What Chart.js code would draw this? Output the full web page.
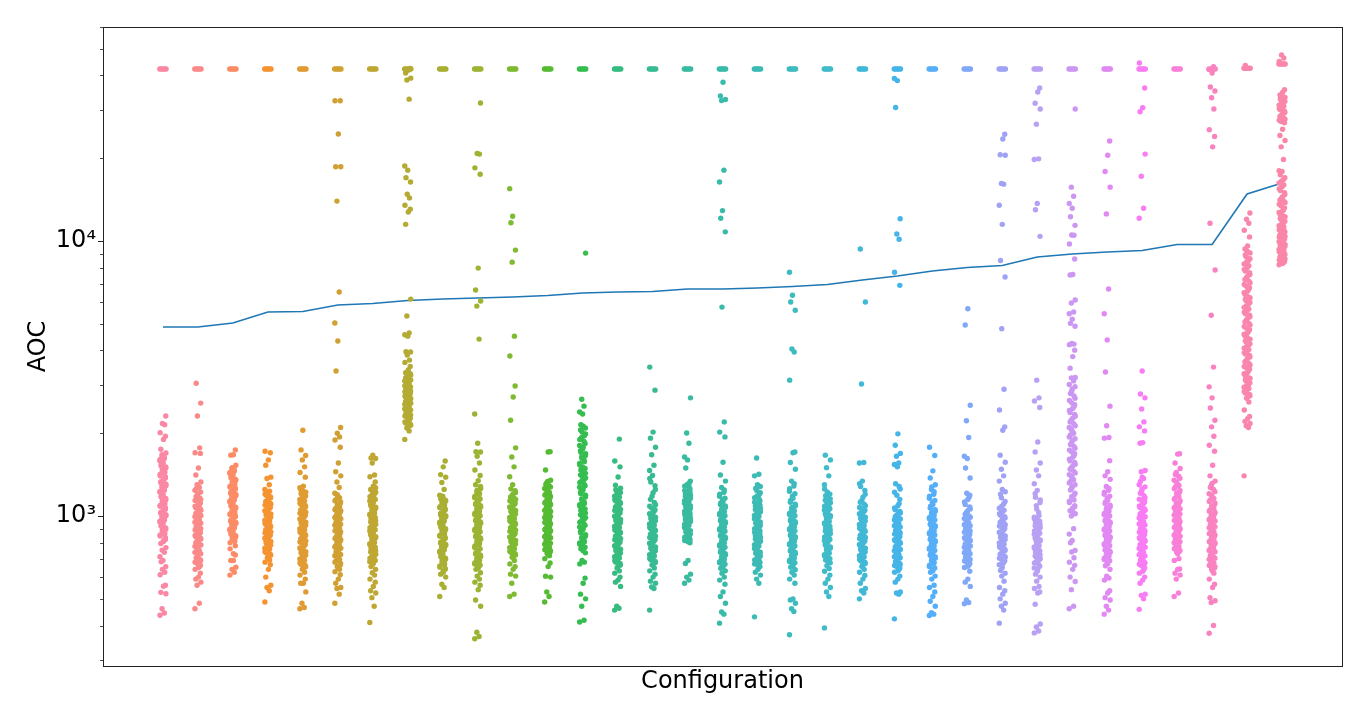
<!DOCTYPE html>
<html><head><meta charset="utf-8">
<style>html,body{margin:0;padding:0;background:#fff}canvas{display:block}</style>
<script src="https://cdn.jsdelivr.net/npm/chart.js@4"></script></head>
<body><div style="width:1368px;height:720px"><canvas id="c" width="1368" height="720"></canvas></div>
<script>
const medianAOC=[4868,4868,5032,5518,5541,5851,5925,6075,6153,6205,6258,6337,6470,6525,6552,6690,6690,6747,6832,6947,7214,7459,7778,8009,8145,8747,8968,9120,9236,9712,9712,14825,16255];
const capValues=[42200,42200,42200,42200,42200,42200,42200,42200,42200,42200,42200,42200,42200,42200,42200,42200,42200,42200,42200,42200,42200,42200,42200,42200,42200,42200,42200,42200,42200,42200,42200,42500,44000];
const palette=["#fa88a4","#fa8a8a","#fb8c66","#f59331","#e09b33","#d0a033","#bfa733","#b4ab33","#a9af33","#9cb433","#7fba33","#55bb33","#35bd50","#37bc80","#38bb92","#39bb9f","#3abbaa","#3cbbb5","#3dbbbf","#3fbbc9","#41b8d6","#45b5e8","#55aef8","#80a8f8","#a0a2f5","#b8a0f3","#cc96f3","#e188f3","#f87cf3","#f97fd8","#f983c0","#fa86b0","#fa87a8"];
const jitter=[-0.085,0.04,-0.025,0.085,-0.06,0.015,0.07,-0.08,0.05,-0.015,0.08,-0.05,0.0];
const capJitter=[-0.09,-0.045,0,0.045,0.09];
const yMajorTicks=[1000,10000];
const yMinorTicks=[300,400,500,600,700,800,900,2000,3000,4000,5000,6000,7000,8000,9000,20000,30000,40000,50000,60000];

const c00=[436,444,460,522,528,556,560,612,625,640,655,682,690,712,738,752,768,795,808,822,846,860,883,895,918,930,952,965,985,1003,1022,1045,1058,1085,1100,1126,1145,1172,1190,1220,1240,1270,1290,1322,1345,1376,1400,1438,1460,1495,1520,1556,1585,1620,1650,1695,1750,1900,1950,2010,2150,2170,2310];
const c01=[460,482,560,575,590,600,620,640,655,672,690,705,722,738,750,768,785,800,818,832,850,865,880,900,915,932,950,968,985,1005,1022,1040,1062,1085,1105,1130,1150,1178,1205,1240,1270,1300,1330,1410,1495,1690,1700,1770,2310,2575,3040];
const c02=[610,625,640,652,690,730,780,800,815,832,848,866,880,896,915,930,948,965,985,1003,1020,1040,1058,1078,1095,1116,1135,1155,1175,1198,1218,1240,1262,1285,1310,1335,1360,1388,1415,1440,1470,1500,1530,1665,1670,1740];
const c03=[487,535,550,560,600,640,665,680,692,706,720,735,750,764,778,792,808,822,838,852,868,884,900,915,932,948,965,982,1000,1018,1036,1055,1075,1096,1118,1140,1165,1190,1215,1250,1300,1370,1385,1530,1600,1700,1720];
const c04=[460,465,482,530,570,570,590,610,625,640,654,668,682,698,712,728,742,758,772,788,805,820,836,850,866,884,900,916,934,950,968,986,1005,1024,1042,1062,1082,1102,1125,1148,1172,1196,1222,1250,1285,1385,1440,1510,1600,1660,1740,2050];
const c05=[482,520,545,550,570,590,612,628,640,656,672,688,702,718,732,748,764,780,796,812,828,844,860,876,892,908,926,942,960,978,996,1015,1035,1055,1078,1100,1125,1150,1180,1210,1270,1330,1400,1450,1560,1780,1890,1940,2000,2100,3370,4330,5032,6525,13970,18620,18620,24490,32360,32360];
const c06=[410,470,505,525,535,555,575,590,610,622,640,655,668,682,695,710,726,740,756,770,786,802,818,834,850,866,882,900,916,934,952,970,988,1006,1025,1045,1065,1088,1110,1135,1162,1190,1220,1250,1285,1330,1390,1410,1560,1620,1625,1665];
const c07=[1900,2040,2090,2140,2180,2220,2270,2310,2350,2390,2430,2470,2510,2550,2590,2630,2670,2710,2750,2790,2830,2870,2910,2950,3000,3050,3100,3150,3200,3260,3320,3400,3500,3620,3690,3850,3950,3960,4510,4560,4630,5340,6150,11500,12750,13050,13500,14350,14800,16400,17000,18100,18740,32800,38500,39100,40800,41800,42400];
const c08=[510,550,565,600,615,625,640,652,666,680,696,710,724,738,752,766,782,796,812,828,844,860,876,892,908,924,940,958,976,994,1012,1032,1052,1072,1092,1112,1132,1152,1172,1190,1250,1325,1385,1415,1510,1585];
const c09=[358,365,378,470,495,540,560,575,590,605,622,640,655,670,684,698,712,728,744,760,778,796,814,832,850,868,886,905,924,942,962,982,1002,1024,1046,1068,1090,1114,1140,1166,1195,1225,1260,1300,1345,1405,1470,1560,1650,1710,1715,1840,2350,4400,5800,6050,6640,7970,17500,18450,20700,20800,31750];
const c10=[510,520,570,605,615,640,655,670,690,708,722,738,752,768,784,800,816,832,848,864,880,898,916,934,952,970,988,1008,1028,1048,1068,1090,1112,1136,1160,1188,1218,1256,1300,1390,1510,1640,1770,2230,2710,2970,3820,4510,8380,9270,11650,12300,15500];
const c11=[487,510,530,600,604,655,675,700,718,732,748,762,776,790,804,818,834,848,862,878,892,908,924,940,955,972,988,1005,1022,1040,1058,1076,1095,1115,1135,1155,1180,1205,1232,1260,1290,1320,1350,1470,1710,1715];
const c12=[412,418,470,500,520,570,595,670,680,690,735,760,780,798,815,835,855,880,900,925,950,975,1000,1025,1050,1075,1100,1125,1155,1190,1220,1255,1290,1325,1360,1395,1430,1470,1510,1555,1600,1640,1685,1730,1780,1835,1900,1960,2020,2090,2150,2350,2390,2510,2660,9040];
const c13=[455,462,470,555,575,585,600,620,632,648,664,680,696,712,726,742,758,772,788,804,820,836,852,868,884,900,918,936,954,972,990,1008,1028,1048,1068,1090,1112,1134,1158,1182,1206,1232,1262,1295,1386,1510,1585,1905];
const c14=[455,545,552,570,580,600,615,632,648,664,678,694,708,724,740,756,772,788,804,820,836,852,868,884,900,918,936,952,970,990,1010,1030,1055,1085,1120,1180,1250,1330,1405,1465,1530,1670,1780,1920,2020,2870,3480];
const c15=[570,585,600,615,672,690,800,815,830,845,860,876,892,908,924,940,955,970,986,1002,1018,1034,1050,1066,1082,1098,1114,1130,1146,1162,1180,1198,1218,1240,1270,1300,1340,1495,1600,1640,1840,2005,2690];
const c16=[408,440,448,482,510,530,565,585,600,620,632,646,660,676,690,706,722,738,754,770,786,802,820,838,854,872,890,908,926,944,962,982,1002,1022,1042,1064,1088,1115,1145,1180,1220,1270,1340,1410,1570,1940,2020,2200,5750,10800,12100,12900,16400,18100,32400,32700,33700,37800];
const c17=[430,570,590,610,625,640,655,670,686,700,716,732,746,762,778,794,810,826,842,858,874,890,908,924,942,960,978,996,1016,1036,1056,1076,1098,1122,1150,1180,1215,1260,1300,1400,1420,1626];
const c18=[370,450,460,482,495,500,570,590,610,625,638,652,668,684,698,714,730,746,762,778,794,810,826,842,858,874,892,908,926,944,962,982,1002,1024,1048,1075,1105,1140,1180,1230,1285,1340,1480,1565,1700,1710,3120,3950,4050,5600,6000,6350,7700];
const c19=[392,510,530,550,570,590,610,630,645,660,676,692,708,724,740,756,772,790,806,822,840,856,874,890,908,926,944,962,982,1002,1022,1042,1064,1085,1108,1130,1155,1185,1220,1300,1400,1500,1600,1665];
const c20=[500,525,535,545,570,590,608,625,640,656,672,688,702,718,734,748,764,780,796,812,828,844,860,878,896,914,932,950,970,990,1010,1030,1050,1075,1105,1140,1200,1280,1340,1560,1565,3020,6000,9350];
const c21=[423,520,525,530,575,590,605,625,640,655,668,684,698,712,726,740,756,772,788,804,820,836,852,868,886,904,922,940,958,976,995,1015,1040,1070,1110,1190,1255,1310,1510,1540,1560,1650,1690,1810,1990,6900,7700,10150,10600,12050,30600,38300,39000];
const c22=[435,440,445,470,490,510,530,550,560,590,605,625,640,655,672,688,704,720,736,750,766,782,798,814,830,846,862,878,896,914,932,950,968,988,1008,1030,1055,1085,1120,1160,1200,1250,1300,1375,1460,1660,1780];
const c23=[480,485,495,555,575,590,630,650,665,680,695,708,722,736,750,764,778,792,806,820,834,850,866,882,898,914,930,948,968,990,1015,1045,1080,1125,1170,1210,1375,1495,1620,1650,1930,2220,2530,4950,5670];
const c24=[408,455,470,482,500,520,535,550,580,605,620,634,650,665,680,696,710,726,742,758,774,790,806,822,838,856,874,892,910,930,950,972,995,1020,1050,1085,1130,1200,1250,1340,1400,1480,1570,1665,2050,2110,2430,2890,4800,7400,8500,11500,13500,16100,16200,20500,20600,23500,24450];
const c25=[376,382,395,405,478,525,530,545,555,580,600,615,630,648,666,684,700,716,732,748,764,780,796,812,826,842,858,874,890,906,922,940,958,978,1005,1060,1120,1170,1240,1310,1400,1470,1560,1710,1860,2480,2620,2690,3120,10400,13000,13700,19800,19900,26600,30200,31700,34800,36000];
const c26=[460,470,540,578,600,640,662,680,705,740,750,800,815,860,900,1000,1020,1045,1070,1090,1120,1145,1175,1210,1245,1280,1320,1355,1395,1435,1480,1520,1565,1610,1660,1710,1765,1820,1880,1940,2000,2070,2130,2200,2270,2340,2420,2500,2580,2680,2790,2900,3010,3100,3180,3190,3450,3800,4010,4200,4220,4240,4900,5020,5200,5440,5520,5950,6100,7520,7560,8600,9750,10500,10520,11400,12250,13150,13700,14550,15700,30200];
const c27=[440,455,470,495,505,525,535,585,595,605,640,660,680,695,710,725,738,752,766,780,794,810,826,842,858,874,890,906,924,942,960,980,1000,1022,1045,1068,1095,1125,1160,1200,1240,1280,1360,1400,1450,1590,1920,1930,2130,2510,3340,4370,5440,6690,12550,15700,17900,20500,23100];
const c28=[458,500,515,520,570,585,600,620,640,660,676,692,708,724,738,754,770,786,802,818,834,850,866,882,900,918,936,954,974,994,1015,1038,1062,1088,1115,1140,1165,1210,1255,1300,1370,1450,1465,1840,1850,2040,2110,2200,2450,2690,2780,3370,12100,13150,17200,20700,29500,30500,36000,44400];
const c29=[510,525,590,610,620,640,642,690,700,740,750,770,785,800,815,830,845,860,876,892,908,924,940,956,972,990,1008,1026,1044,1062,1080,1100,1125,1150,1178,1208,1240,1275,1310,1350,1395,1440,1490,1560,1680,1685];
const c30=[375,400,485,492,505,550,565,590,620,640,655,668,682,696,710,726,742,758,774,790,806,822,838,854,870,888,906,924,942,960,980,1000,1020,1042,1064,1088,1115,1145,1175,1205,1250,1290,1340,1400,1530,1720,1810,1950,2110,2230,2470,2690,2950,3480,5370,7850,11600,22000,24000,25400,30200,33200,35100,36300,40800,42000,43000];
const c31=[1400,2100,2130,2170,2210,2260,2300,2430,2600,2680,2740,2800,2880,2940,3010,3090,3170,3250,3330,3420,3500,3590,3690,3790,3880,3980,4080,4180,4290,4400,4520,4640,4760,4890,5020,5160,5300,5440,5590,5740,5900,6060,6220,6400,6580,6760,6950,7150,7350,7560,7780,8000,8250,8500,8750,9050,9350,9600,10350,10950,11600,12000,12650,43500];
const c32=[8200,8350,8450,8600,8750,8850,9000,9150,9250,9400,9550,9650,9800,9950,10100,10250,10400,10550,10700,10850,11000,11250,11500,11800,12100,12400,12700,13000,13400,13800,14100,14500,15000,15500,16000,16500,17000,17400,17900,18000,19800,22000,23200,24200,25500,26900,27500,28000,28700,29300,30000,30600,31200,31900,32500,33300,34000,34700,35500,45000,46300,47500];
const aocByConfig=[c00,c01,c02,c03,c04,c05,c06,c07,c08,c09,c10,c11,c12,c13,c14,c15,c16,c17,c18,c19,c20,c21,c22,c23,c24,c25,c26,c27,c28,c29,c30,c31,c32];

const core00=[814,834,853,872,890,906,924,941,958,975,993,1012,1033,1052,1071,1092,1113,1135,1158,1181,1205,1230,1255,1280,1306,1333,1360,1388,1419,1449,1478,1508,1538,1570,1602,1635,1672];
const core01=[650,663,680,697,713,730,744,759,776,792,809,825,841,857,872,890,907,923,941,959,976,995,1013,1031,1050,1073,1095,1117,1140,1164,1191,1222,1255,1285];
const core02=[690,722,760,808,824,840,857,873,888,905,922,939,956,975,994,1011,1030,1049,1068,1086,1105,1125,1145,1165,1186,1208,1229,1251,1273,1297,1322,1347,1374,1401,1428,1455,1485];
const core03=[712,727,742,757,771,785,800,815,830,845,860,876,892,907,923,940,956,973,991,1009,1027,1045,1065,1085,1107,1129,1152,1177,1202,1232];
const core04=[647,661,675,690,705,720,735,750,765,780,796,812,828,843,858,875,892,908,925,942,959,977,995,1014,1033,1052,1072,1092,1113,1136,1160,1184,1209,1236,1267];
const core05=[648,664,680,695,710,725,740,756,772,788,804,820,836,852,868,884,900,917,934,951,969,987,1005,1025,1045,1066,1089,1112,1137,1165,1195];
const core06=[675,689,702,718,733,748,763,778,794,810,826,842,858,874,891,908,925,943,961,979,997,1015,1035,1055,1076,1099,1122,1148,1176,1205,1235,1268];
const core07=[2110,2160,2200,2245,2290,2330,2370,2410,2450,2490,2530,2570,2610,2650,2690,2730,2770,2810,2850,2890,2930,2975,3025,3075,3125,3175,3230,3290];
const core08=[632,645,659,673,688,703,717,731,745,759,774,789,804,820,836,852,868,884,900,916,932,949,967,985,1003,1022,1042,1062,1082,1102,1122,1142,1162,1180];
const core09=[648,663,677,691,705,720,736,752,769,787,805,823,841,859,877,895,914,933,952,972,992,1013,1035,1057,1079,1102,1127,1153,1180,1210,1242,1280];
const core10=[715,730,745,760,776,792,808,824,840,856,872,889,907,925,943,961,979,998,1018,1038,1058,1079,1101,1124,1148,1174,1203,1237];
const core11=[725,740,755,769,783,797,811,826,841,855,870,885,900,916,932,948,963,980,996,1013,1031,1049,1067,1085,1105,1125,1145,1167,1192,1218,1246,1275,1305,1335];
const core12=[748,770,789,806,825,845,867,890,912,937,962,987,1012,1037,1062,1087,1112,1140,1172,1205,1237,1272,1307,1342,1377,1412,1450,1490,1532,1577,1620,1662,1707,1755,1807,1867,1930,1990,2055,2120];
const core13=[656,672,688,704,719,734,750,765,780,796,812,828,844,860,876,892,909,927,945,963,981,999,1018,1038,1058,1079,1101,1123,1146,1170,1194,1219,1247];
const core14=[670,686,701,716,732,748,764,780,796,812,828,844,860,876,892,909,927,944,961,980,1000,1020,1042,1070,1100,1150,1215,1290,1370];
const core15=[807,822,837,852,868,884,900,916,932,947,962,978,994,1010,1026,1042,1058,1074,1090,1106,1122,1138,1154,1171,1189,1208,1229,1255,1285,1320];
const core16=[653,668,683,698,714,730,746,762,778,794,811,829,846,863,881,899,917,935,953,972,992,1012,1032,1053,1076,1101,1130,1162,1200,1245];
const core17=[662,678,693,708,724,739,754,770,786,802,818,834,850,866,882,899,916,933,951,969,987,1006,1026,1046,1066,1087,1110,1136,1165,1197,1237,1280];
const core18=[660,676,691,706,722,738,754,770,786,802,818,834,850,866,883,900,917,935,953,972,992,1013,1036,1061,1090,1122,1160,1205,1257,1312];
const core19=[684,700,716,732,748,764,781,798,814,831,848,865,882,899,917,935,953,972,992,1012,1032,1053,1074,1096,1119,1142,1170,1202,1255];
const core20=[664,680,695,710,726,741,756,772,788,804,820,836,852,869,887,905,923,941,960,980,1000,1020,1040,1062,1090,1122,1170,1240,1310];
const core21=[632,647,661,676,691,705,719,733,748,764,780,796,812,828,844,860,877,895,913,931,949,967,985,1005,1027,1055,1090,1150,1220,1280];
const core22=[632,647,663,680,696,712,728,743,758,774,790,806,822,838,854,870,887,905,923,941,959,978,998,1019,1042,1070,1102,1140,1180,1225,1275];
const core23=[657,672,687,701,715,729,743,757,771,785,799,813,827,842,858,874,890,906,922,939,958,979,1002,1030,1062,1102,1148,1190];
const core24=[672,688,703,718,734,750,766,782,798,814,830,847,865,883,901,920,940,961,983,1007,1035,1067,1107,1165,1225];
const core25=[639,657,675,692,708,724,740,756,772,788,804,819,834,850,866,882,898,914,931,949,968,991,1030,1090,1145,1205];
const core26=[1035,1080,1132,1192,1262,1300,1337,1375,1415,1457,1500,1542,1587,1635,1685,1737,1792,1850,1910,1970,2035,2100,2165,2235,2305,2380,2460,2540,2630,2735,2845,2955];
const core27=[670,688,703,718,731,745,759,773,787,802,818,834,850,866,882,898,915,933,951,970,990,1011,1033,1056,1081,1110,1142,1180,1220,1260];
const core28=[630,650,668,684,700,716,731,746,762,778,794,810,826,842,858,874,891,909,927,945,964,984,1005,1026,1050,1075,1101,1127,1152,1187,1232,1277,1335,1385];
const core29=[730,745,760,777,792,807,822,837,852,868,884,900,916,932,948,964,981,999,1017,1035,1053,1071,1090,1112,1137,1164,1193,1224,1257,1292,1330,1372,1417];
const core30=[630,647,661,675,689,703,718,734,750,766,782,798,814,830,846,862,879,897,915,933,951,970,990,1010,1031,1053,1076,1101,1130,1160,1190,1227,1270,1315];
const core31=[2710,2770,2840,2910,2975,3050,3130,3210,3290,3375,3460,3545,3640,3740,3835,3930,4030,4130,4235,4345,4460,4580,4700,4825,4955,5090,5230,5370,5515,5665,5820,5980,6140,6310,6490,6670,6855,7050,7250,7455,7670,7890,8125,8375,8625,8900,9200];
const core32=[8280,8400,8525,8675,8800,8925,9075,9200,9325,9475,9600,9725,9875,10025,10175,10325,10475,10625,10775,10925,11125,11375,11650,11950,12250,12550,12850,13200,13600,13950,14300,14750,15250,15750,16250,16750,27200,27750,28350,29000,29650,30300,30900,31550,32200,32900,33650];
const coreByConfig=[core00,core01,core02,core03,core04,core05,core06,core07,core08,core09,core10,core11,core12,core13,core14,core15,core16,core17,core18,core19,core20,core21,core22,core23,core24,core25,core26,core27,core28,core29,core30,core31,core32];

const strips=aocByConfig.map((vals,i)=>({
  type:'scatter',order:0,label:'Config '+(i+1),
  data:vals.map((v,k)=>({x:i+jitter[k%jitter.length],y:v}))
    .concat(coreByConfig[i].map((v,k)=>({x:i+jitter[(k+5)%jitter.length],y:v})))
    .concat(capJitter.map(j=>({x:i+j,y:capValues[i]}))),
  backgroundColor:palette[i],borderWidth:0,pointRadius:2.7,pointHoverRadius:2.7
}));
const line={type:'scatter',order:1,label:'Median',showLine:true,data:medianAOC.map((v,i)=>({x:i,y:v})),
  borderColor:'#1f77b4',borderWidth:1.6,pointRadius:0,fill:false,tension:0};
const frame={id:'frame',afterDraw(ch){
  const a=ch.chartArea,c=ch.ctx,y=ch.scales.y;
  c.save();c.strokeStyle='#222';c.lineWidth=1;
  c.strokeRect(Math.round(a.left)+.5,Math.round(a.top)+.5,Math.round(a.right-a.left),Math.round(a.bottom-a.top));
  c.lineWidth=.8;c.beginPath();
  yMinorTicks.forEach(v=>{const p=Math.round(y.getPixelForValue(v))+.5;if(p>a.top&&p<a.bottom){c.moveTo(a.left-3,p);c.lineTo(a.left,p);}});
  c.stroke();c.restore();
}};
Chart.defaults.font.family='"DejaVu Sans"';
new Chart(document.getElementById('c'),{
  type:'scatter',data:{datasets:[...strips,line]},plugins:[frame],
  options:{responsive:false,animation:false,events:[],
    layout:{padding:{top:27,right:26,left:0,bottom:0}},
    plugins:{legend:{display:false},tooltip:{enabled:false}},
    scales:{
      x:{type:'linear',min:-1.714,max:33.714,
        ticks:{display:false},grid:{display:false},border:{display:false},
        title:{display:true,text:'Configuration',color:'#000',font:{size:24},padding:{top:1,bottom:24}},
        afterFit(s){s.height=54;}},
      y:{type:'logarithmic',min:285,max:60000,
        afterBuildTicks(s){s.ticks=yMajorTicks.map(v=>({value:v}));},
        ticks:{color:'#000',font:{size:24},padding:2,autoSkip:false,maxRotation:0,callback:v=>v===1000?'10³':v===10000?'10⁴':''},
        grid:{drawOnChartArea:false,drawTicks:true,tickLength:5,tickColor:'#222'},border:{display:false},
        title:{display:true,text:'AOC',color:'#000',font:{size:24},padding:{top:24,bottom:0}},
        afterFit(s){s.width=103;}}
    }
  }
});
</script></body></html>
